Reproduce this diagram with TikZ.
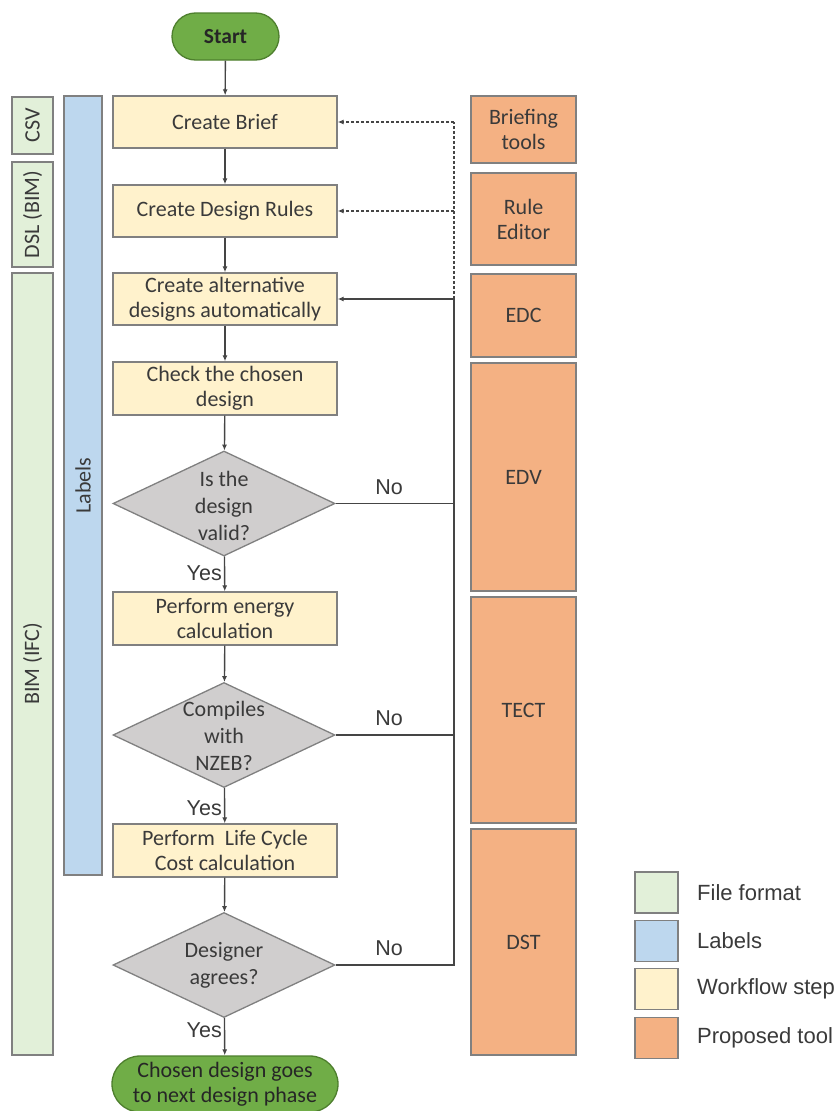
\documentclass[tikz,border=0pt]{standalone}
\usepackage{fontspec}
\setmainfont{Carlito}
\newfontfamily\arialf{Liberation Sans}
\usetikzlibrary{shapes.geometric,arrows.meta}
\definecolor{stepfill}{HTML}{FFF2CC}
\definecolor{toolfill}{HTML}{F4B183}
\definecolor{fmtfill}{HTML}{E2F0D9}
\definecolor{labfill}{HTML}{BDD7EE}
\definecolor{decfill}{HTML}{D0CECE}
\definecolor{termfill}{HTML}{70AD47}
\definecolor{termborder}{HTML}{4E7F2E}
\definecolor{edge}{HTML}{808080}
\definecolor{ink}{HTML}{3A3A3A}
\definecolor{lineink}{HTML}{454545}
\begin{document}
\begin{tikzpicture}[x=1pt,y=-1pt,
  base/.style={draw=edge, line width=1.3pt, text=ink, align=center, inner sep=0pt,
    font=\fontsize{22}{25}\selectfont},
  stepbox/.style={base, rectangle, fill=stepfill, minimum width=224pt, minimum height=52pt},
  toolbox/.style={base, rectangle, fill=toolfill, minimum width=105pt},
  fmtbox/.style={base, rectangle, fill=fmtfill, minimum width=41pt},
  labbox/.style={base, rectangle, fill=labfill, minimum width=38pt},
  decbox/.style={base, diamond, fill=decfill, minimum width=222pt, minimum height=105pt},
  dectext/.style={text=ink, align=center, inner sep=0pt, font=\fontsize{22}{27}\selectfont},
  term/.style={base, rectangle, fill=termfill, draw=termborder, text=black!85},
  flow/.style={draw=lineink, line width=1.4pt, -{Latex[length=6pt,width=5pt]}},
  loopline/.style={draw=lineink, line width=1.4pt},
  dotline/.style={draw=lineink, line width=1.2pt, dash pattern=on 3pt off 2pt},
  answer/.style={text=ink, inner sep=0pt, font=\arialf\fontsize{21.5}{24}\selectfont},
  legbox/.style={draw=edge, line width=1.3pt, minimum width=43pt, minimum height=41pt, inner sep=0pt},
  legtext/.style={text=ink, inner sep=0pt, anchor=west, font=\arialf\fontsize{22}{25}\selectfont}
]
\useasboundingbox (0,0) rectangle (837,1111);
\fill[white] (0,0) rectangle (837,1111);

% left bars
\node[fmtbox, minimum height=57pt] (csv) at (32.5,125.5) {\rotatebox{90}{CSV}};
\node[fmtbox, minimum height=105pt] (dsl) at (32.5,214.5) {\rotatebox{90}{DSL (BIM)}};
\node[fmtbox, minimum height=782pt] (ifc) at (32.5,664) {\rotatebox{90}{BIM (IFC)}};
\node[labbox, minimum height=779pt] (labels) at (83,485.5) {\rotatebox{90}{Labels}};

% terminals
\node[term, minimum width=107pt, minimum height=47pt, rounded corners=23.5pt,
  font=\bfseries\fontsize{21.5}{25}\selectfont] (start) at (225.5,36.5) {Start};
\node[term, minimum width=226pt, minimum height=56pt, rounded corners=28pt] (finish) at (225,1084)
  {Chosen design goes\\to next design phase};

% workflow steps
\node[stepbox] (brief) at (225,122) {Create Brief};
\node[stepbox] (rules) at (225,211) {Create Design Rules};
\node[stepbox] (alt) at (225,299) {Create alternative\\designs automatically};
\node[stepbox, minimum height=53pt] (check) at (225,388.5) {Check the chosen\\design};
\node[stepbox, minimum height=53pt] (energy) at (225,618.5) {Perform energy\\calculation};
\node[stepbox, minimum height=53pt] (lcc) at (225,850.5) {Perform\ \ Life Cycle\\Cost calculation};

% decisions
\node[decbox] (d1) at (224,503.5) {};
\node[dectext] (d1t) at (224,505.5) {Is the\\design\\valid?};
\node[decbox] (d2) at (224,735) {};
\node[dectext] (d2t) at (224,736) {Compiles\\with\\NZEB?};
\node[decbox] (d3) at (224,965) {};
\node[dectext] (d3t) at (d3) {Designer\\agrees?};

% tools
\node[toolbox, minimum height=67pt] (brieftool) at (523.5,129.5) {Briefing\\tools};
\node[toolbox, minimum height=92pt] (ruleed) at (523.5,219) {Rule\\Editor};
\node[toolbox, minimum height=83pt] (edc) at (523.5,315.5) {EDC};
\node[toolbox, minimum height=228pt] (edv) at (523.5,477) {EDV};
\node[toolbox, minimum height=226pt] (tect) at (523.5,710) {TECT};
\node[toolbox, minimum height=226pt] (dst) at (523.5,942) {DST};

% main flow
\draw[flow] (start) -- (brief);
\draw[flow] (brief) -- (rules);
\draw[flow] (rules) -- (alt);
\draw[flow] (alt) -- (check);
\draw[flow] (check) -- (d1);
\draw[flow] (d1) -- (energy);
\draw[flow] (energy) -- (d2);
\draw[flow] (d2) -- (lcc);
\draw[flow] (lcc) -- (d3);
\draw[flow] (d3) -- (finish);

% loop back
\coordinate (loopbot) at (454,965);
\coordinate (looptop) at (454,299);
\coordinate (dottop) at (454,122);
\draw[loopline] (d3.east) -- (loopbot) -- (looptop);
\draw[flow] (looptop) -- (alt.east);
\draw[loopline] (d1.east) -- (d1.east -| loopbot);
\draw[loopline] (d2.east) -- (d2.east -| loopbot);

% dotted tool links
\draw[dotline] (looptop) -- (dottop);
\draw[dotline, -{Latex[length=6pt,width=5pt]}] (dottop) -- (brief.east);
\draw[dotline, -{Latex[length=6pt,width=5pt]}] (dottop |- rules.east) -- (rules.east);

% answers
\node[answer, anchor=east] (y1) at (222,573) {Yes};
\node[answer, anchor=east] (y2) at (222,808) {Yes};
\node[answer, anchor=east] (y3) at (222,1030) {Yes};
\node[answer] (n1) at (389,487) {No};
\node[answer] (n2) at (389,718) {No};
\node[answer] (n3) at (389,948) {No};

% legend
\node[legbox, fill=fmtfill] (lg1) at (656.5,892.5) {};
\node[legbox, fill=labfill] (lg2) at (656.5,941) {};
\node[legbox, fill=stepfill] (lg3) at (656.5,989) {};
\node[legbox, fill=toolfill] (lg4) at (656.5,1038) {};
\node[legtext] (lt1) at (697,892.5) {File format};
\node[legtext] (lt2) at (697,941) {Labels};
\node[legtext] (lt3) at (697,989) {Workflow step};
\node[legtext] (lt4) at (697,1038) {Proposed tool};
\end{tikzpicture}
\end{document}
